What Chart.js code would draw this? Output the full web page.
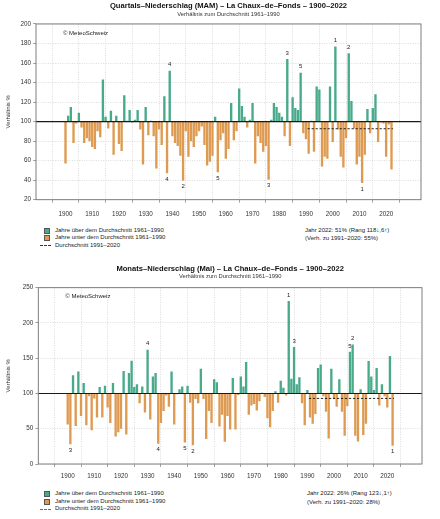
<!DOCTYPE html>
<html>
<head>
<meta charset="utf-8">
<script src="https://cdn.jsdelivr.net/npm/chart.js@4.4.0/dist/chart.umd.min.js"></script>
<style>
  body { margin: 0; background: #fff; font-family: "Liberation Sans", Arial, sans-serif; }
  #page { position: relative; width: 440px; height: 519px; overflow: hidden; }
  canvas { position: absolute; left: 0; }
  .leg { position: absolute; font-size: 6px; line-height: 7px; color: #222; white-space: nowrap; }
  .box { position: absolute; width: 4px; height: 4px; border: 0.6px solid #555; }
  .dash { position: absolute; width: 11px; height: 0; border-top: 1px dashed #333; }
</style>
</head>
<body>
<div id="page">
  <canvas id="mam" width="440" height="222" style="top:0px"></canvas>
  <canvas id="mai" width="440" height="222" style="top:263px"></canvas>

  <div class="box" style="left:44px;top:227.5px;background:#48a98b"></div>
  <div class="leg" style="left:55px;top:226.5px">Jahre über dem Durchschnitt 1961–1990</div>
  <div class="box" style="left:44px;top:235px;background:#de9a50"></div>
  <div class="leg" style="left:55px;top:234px">Jahre unter dem Durchschnitt 1961–1990</div>
  <div class="dash" style="left:40px;top:245px"></div>
  <div class="leg" style="left:55px;top:241.5px">Durchschnitt 1991–2020</div>
  <div class="leg" style="left:305px;top:226.5px">Jahr 2022: 51% (Rang 118↓,6↑)</div>
  <div class="leg" style="left:305px;top:235px">(Verh. zu 1991–2020: 55%)</div>

  <div class="box" style="left:44px;top:491px;background:#48a98b"></div>
  <div class="leg" style="left:55px;top:490px">Jahre über dem Durchschnitt 1961–1990</div>
  <div class="box" style="left:44px;top:498.5px;background:#de9a50"></div>
  <div class="leg" style="left:55px;top:497.5px">Jahre unter dem Durchschnitt 1961–1990</div>
  <div class="dash" style="left:40px;top:508.5px;border-top-color:#c44"></div>
  <div class="leg" style="left:55px;top:505px">Durchschnitt 1991–2020</div>
  <div class="leg" style="left:307px;top:490px">Jahr 2022: 26% (Rang 123↓,1↑)</div>
  <div class="leg" style="left:307px;top:498.5px">(Verh. zu 1991–2020: 28%)</div>
</div>
<script>
const GREEN = '#48a98b';
const ORANGE = '#de9a50';

const firstYear = 1900, lastYear = 2022;
const years = [];
for (let y = firstYear; y <= lastYear; y++) years.push(y);
const yearTicks = [1900, 1910, 1920, 1930, 1940, 1950, 1960, 1970, 1980, 1990, 2000, 2010, 2020];

// Quartals-Niederschlag MAM, % of 1961-1990
const mamValues = [
  57, 106, 115, 78, 98, 109, 94, 78, 83, 80,
  74, 72, 90, 84, 143, 105, 93, 111, 66, 106,
  77, 70, 127, 101, 112, 99, 102, 112, 92, 56,
  115, 86, 101, 85, 52, 92, 76, 126, 47, 152,
  85, 78, 75, 65, 39.5, 90, 64, 80, 74, 85,
  90, 95, 76, 55, 59, 65, 105, 48, 81, 88,
  62, 72, 119, 81, 90, 134, 116, 105, 94, 102,
  119, 57, 85, 78, 69, 75, 40.5, 102, 119, 115,
  109, 105, 85, 164, 75, 125, 114, 112, 150, 88,
  82, 67, 101, 69, 136, 133, 54, 64, 62, 136,
  79, 177, 92, 64, 53, 83, 170, 121, 93, 56,
  64, 37, 66, 113, 88, 114, 128, 79, 99, 98,
  64, 97, 51
];
// Monats-Niederschlag Mai, % of 1961-1990
const maiValues = [
  56, 28, 126, 54, 131, 68, 115, 55, 96, 48,
  93, 66, 109, 66, 111, 80, 58, 115, 39, 45,
  50, 132, 42, 129, 146.5, 109, 113, 86, 110, 73,
  162, 63, 124, 129, 28.7, 58, 75, 97, 81, 131,
  56, 99, 106, 110, 30.5, 111, 87, 26.5, 92, 86,
  135, 92, 35.5, 75, 58, 120, 116, 53, 70, 31.5,
  68, 49, 122, 49, 98, 124, 110, 144.5, 70, 83,
  85, 76, 89, 101, 95, 65, 52, 75, 103, 87,
  118, 108, 97, 231, 121, 166, 113, 123, 86, 55,
  105, 66, 57, 71, 136, 141, 96, 74, 36, 135,
  92, 81, 120, 74, 40, 82, 159, 169.5, 40, 32,
  106, 41, 57, 146, 124, 105, 136, 83, 113, 96,
  80, 153, 26
];
const mamMean = 92.7;   // Durchschnitt 1991-2020
const maiMean = 93;
const meanSpan = [1990.6, 2022.5];
const mamTicks = [20, 40, 60, 80, 100, 120, 140, 160, 180, 200];
const maiTicks = [0, 50, 100, 150, 200, 250];

Chart.defaults.font.family = '"Liberation Sans", Arial, sans-serif';
Chart.defaults.color = '#333';

function decor(values) {
  return {
    id: 'decor',
    afterDatasetsDraw(chart) {
      const { ctx, chartArea: a, scales: { x, y } } = chart;
      ctx.save();
      const y100 = y.getPixelForValue(100);
      ctx.strokeStyle = '#1a1a1a';
      ctx.lineWidth = 1.1;
      ctx.beginPath();
      ctx.moveTo(a.left, y100);
      ctx.lineTo(a.right, y100);
      ctx.stroke();

      // rank numbers for the 5 wettest and 5 driest years
      const order = values.map((v, i) => i).sort((p, q) => values[q] - values[p]);
      ctx.font = '6px "Liberation Sans", Arial';
      ctx.fillStyle = '#222';
      ctx.textAlign = 'center';
      ctx.textBaseline = 'middle';
      for (let r = 0; r < 5; r++) {
        const hi = order[r], lo = order[order.length - 1 - r];
        ctx.fillText(String(r + 1), x.getPixelForValue(years[hi]), y.getPixelForValue(values[hi]) - 6);
        ctx.fillText(String(r + 1), x.getPixelForValue(years[lo]), y.getPixelForValue(values[lo]) + 6);
      }

      ctx.textAlign = 'left';
      ctx.fillText('© MeteoSchweiz', a.left + 27, a.top + 9);

      ctx.strokeStyle = '#707070';
      ctx.lineWidth = 0.9;
      ctx.strokeRect(a.left, a.top, a.right - a.left, a.bottom - a.top);
      ctx.restore();
    }
  };
}

function drawPanel(id, cfg) {
  new Chart(document.getElementById(id), {
    type: 'bar',
    data: {
      datasets: [{
        type: 'line',
        data: meanSpan.map(x => ({ x: x, y: cfg.mean })),
        borderColor: '#111',
        borderWidth: 0.9,
        borderDash: [2.2, 1.8],
        pointRadius: 0,
        order: 0
      }, {
        data: years.map((x, i) => ({ x: x, y: cfg.values[i] })),
        base: 100,
        backgroundColor: c => cfg.values[c.dataIndex] >= 100 ? GREEN : ORANGE,
        barPercentage: 1,
        categoryPercentage: 0.88,
        borderWidth: 0,
        order: 1
      }]
    },
    options: {
      responsive: false,
      animation: false,
      layout: { padding: { left: 0, right: cfg.padRight, top: 0, bottom: 0 } },
      plugins: {
        legend: { display: false },
        tooltip: { enabled: false },
        title: {
          display: true, fullSize: false, text: cfg.title, color: '#111',
          font: { size: 7.6, weight: 'bold' }, padding: cfg.titlePad
        },
        subtitle: {
          display: true, fullSize: false, text: 'Verhältnis zum Durchschnitt 1961–1990', color: '#333',
          font: { size: 5.8 }, padding: cfg.subPad
        }
      },
      scales: {
        x: {
          type: 'linear', min: 1894.5, max: 2027.5,
          afterBuildTicks: s => { s.ticks = yearTicks.map(value => ({ value })); },
          afterFit: s => { s.height = cfg.xh; },
          ticks: { autoSkip: false, maxRotation: 0, padding: cfg.xPad, font: { size: 6.3 }, callback: v => String(v) },
          grid: { color: '#c4c4c4', lineWidth: 0.6, tickLength: 3, tickColor: '#666' },
          border: { display: false, dash: [1, 1.4] }
        },
        y: {
          min: cfg.ticks[0], max: cfg.ticks[cfg.ticks.length - 1],
          afterBuildTicks: s => { s.ticks = cfg.ticks.map(value => ({ value })); },
          afterFit: s => { s.width = cfg.yw; },
          ticks: { padding: 2, font: { size: 6.3 } },
          grid: { color: '#c4c4c4', lineWidth: 0.6, tickLength: 3, tickColor: '#666' },
          border: { display: false, dash: [1, 1.4] },
          title: { display: true, text: 'Verhältnis %', font: { size: 6 }, color: '#333', padding: { top: 5, bottom: 0 } }
        }
      }
    },
    plugins: [decor(cfg.values)]
  });
}

drawPanel('mam', {
  title: 'Quartals–Niederschlag (MAM) – La Chaux–de–Fonds – 1900–2022',
  values: mamValues, mean: mamMean, ticks: mamTicks,
  yw: 36, padRight: 19, xh: 22.3, xPad: 7.5,
  titlePad: { top: 1, bottom: 0.5 }, subPad: { top: 0, bottom: 6.4 }
});
drawPanel('mai', {
  title: 'Monats–Niederschlag (Mai) – La Chaux–de–Fonds – 1900–2022',
  values: maiValues, mean: maiMean, ticks: maiTicks,
  yw: 38.3, padRight: 18, xh: 21, xPad: 5.5,
  titlePad: { top: 1.2, bottom: 0 }, subPad: { top: 0, bottom: 7.4 }
});
</script>
</body>
</html>
